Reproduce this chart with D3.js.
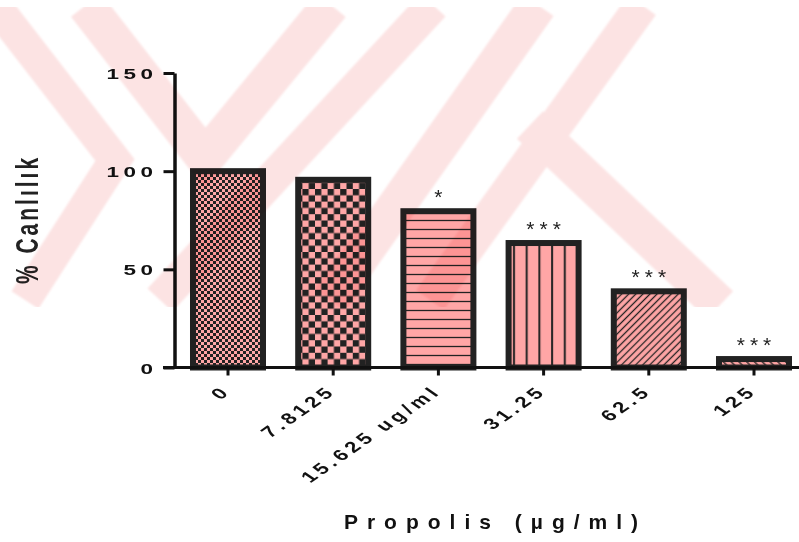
<!DOCTYPE html>
<html>
<head>
<meta charset="utf-8">
<script src="https://cdn.jsdelivr.net/npm/d3@7"></script>
<style>
  html, body { margin: 0; padding: 0; background: #fff; }
  svg { display: block; }
  .lbl { font-family: "Liberation Sans", Arial, sans-serif; font-weight: bold; fill: #111; }
</style>
</head>
<body>
<svg id="chart" width="799" height="542"></svg>
<script>
// ---- data ----
const categories = ["0", "7.8125", "15.625 ug/ml", "31.25", "62.5", "125"];
const viability = [100, 95.6, 79.6, 63.4, 38.8, 4.3];
const significance = ["", "", "*", "***", "***", "***"];
const yTicks = [0, 50, 100, 150];
const yTitle = "% Canlılık";
const xTitle = "Propolis (µg/ml)";

// ---- style ----
const pink = "#ffa6a6";
const ink = "#222";
const axisInk = "#111";
const barFills = ["checkFine", "checkCoarse", "hLines", "vLines", "diagUp", "diagDown"];
const stretch = 1.45;      // horizontal stretch applied to axis lettering

const svg = d3.select("#chart");
const W = 799, H = 542;

const y = d3.scaleLinear().domain([0, 150]).range([367.5, 73]);
const x = d3.scaleBand().domain(categories)
  .range([175.4, 806.6]).paddingInner(0.3346).paddingOuter(0.1673);

// ---- fill patterns ----
const defs = svg.append("defs");
function pattern(id, w, h, transform) {
  const p = defs.append("pattern").attr("id", id)
    .attr("patternUnits", "userSpaceOnUse").attr("width", w).attr("height", h);
  if (transform) p.attr("patternTransform", transform);
  p.append("rect").attr("width", w).attr("height", h).attr("fill", pink);
  return p;
}
let p = pattern("checkFine", 6, 6);
p.append("rect").attr("width", 3).attr("height", 3).attr("fill", ink);
p.append("rect").attr("x", 3).attr("y", 3).attr("width", 3).attr("height", 3).attr("fill", ink);

p = pattern("checkCoarse", 12.6, 12.6);
p.append("rect").attr("width", 6.3).attr("height", 6.3).attr("fill", ink);
p.append("rect").attr("x", 6.3).attr("y", 6.3).attr("width", 6.3).attr("height", 6.3).attr("fill", ink);

p = pattern("hLines", 10, 9);
p.append("line").attr("x1", 0).attr("x2", 10).attr("y1", 4.5).attr("y2", 4.5)
  .attr("stroke", ink).attr("stroke-width", 1.3);

p = pattern("vLines", 12.7, 10);
p.append("line").attr("x1", 6).attr("x2", 6).attr("y1", 0).attr("y2", 10)
  .attr("stroke", ink).attr("stroke-width", 2);

p = pattern("diagUp", 5, 10, "rotate(45)");
p.append("line").attr("x1", 2.5).attr("x2", 2.5).attr("y1", 0).attr("y2", 10)
  .attr("stroke", ink).attr("stroke-width", 1.3);

p = pattern("diagDown", 5.5, 10, "rotate(-45)");
p.append("line").attr("x1", 2.7).attr("x2", 2.7).attr("y1", 0).attr("y2", 10)
  .attr("stroke", ink).attr("stroke-width", 1.3);

// ---- bars ----
svg.append("g").selectAll("rect").data(viability).join("rect")
  .attr("x", (d, i) => x(categories[i]))
  .attr("width", x.bandwidth())
  .attr("y", d => y(d))
  .attr("height", d => y(0) - y(d))
  .attr("fill", (d, i) => `url(#${barFills[i]})`)
  .attr("stroke", ink)
  .attr("stroke-width", 6);

// ---- significance marks ----
const starLS = 5;
svg.append("g").selectAll("text").data(significance).join("text")
  .attr("class", "lbl")
  .attr("x", (d, i) => x(categories[i]) + x.bandwidth() / 2)
  .attr("y", (d, i) => y(viability[i]) - 7)
  .attr("dx", starLS / 2)
  .attr("text-anchor", "middle")
  .style("font-size", "21px")
  .style("font-weight", "normal")
  .style("letter-spacing", starLS + "px")
  .style("fill", ink)
  .text(d => d);

// ---- y axis ----
const yLS = 3.1;
const yAxis = svg.append("g")
  .attr("transform", "translate(174.5,0)")
  .call(d3.axisLeft(y).tickValues(yTicks).tickSize(11).tickSizeOuter(0).tickFormat(d3.format("d")));
yAxis.attr("font-family", null).attr("font-size", null);
yAxis.select(".domain").attr("stroke", axisInk).attr("stroke-width", 3.5);
yAxis.selectAll(".tick line").attr("stroke", axisInk).attr("stroke-width", 3);
yAxis.selectAll(".tick text")
  .attr("class", "lbl")
  .attr("x", 0).attr("dy", "0.36em")
  .attr("dx", yLS)
  .attr("text-anchor", "end")
  .attr("transform", `translate(-21.5,0) scale(${stretch},1)`)
  .style("font-size", "15.5px")
  .style("letter-spacing", yLS + "px");

// ---- x axis ----
const xLS = 3;
const xAxis = svg.append("g")
  .attr("transform", "translate(0,367.5)")
  .call(d3.axisBottom(x).tickSize(8).tickSizeOuter(0));
xAxis.attr("font-family", null).attr("font-size", null);
xAxis.select(".domain").attr("d", "M163,0H799").attr("stroke", axisInk).attr("stroke-width", 3);
xAxis.selectAll(".tick line").attr("stroke", axisInk).attr("stroke-width", 3);
xAxis.selectAll(".tick text")
  .attr("class", "lbl")
  .attr("y", 0).attr("dy", 0)
  .attr("dx", xLS)
  .attr("text-anchor", "end")
  .attr("transform", `translate(1,27) scale(${stretch},1) rotate(-45)`)
  .style("font-size", "15.5px")
  .style("letter-spacing", xLS + "px");

// ---- axis titles ----
const yTitleLS = 3;
svg.append("text")
  .attr("class", "lbl")
  .attr("transform", `translate(38,221) scale(${stretch},1) rotate(-90)`)
  .attr("text-anchor", "middle")
  .attr("dx", yTitleLS / 2)
  .style("font-size", "21px")
  .style("letter-spacing", yTitleLS + "px")
  .style("fill", ink)
  .text(yTitle);

const xTitleLS = 9;
svg.append("text")
  .attr("class", "lbl")
  .attr("x", 491).attr("y", 529)
  .attr("dx", xTitleLS / 2)
  .attr("text-anchor", "middle")
  .style("font-size", "21px")
  .style("letter-spacing", xTitleLS + "px")
  .text(xTitle);

// ---- faint background emblem ----
const blur = defs.append("filter").attr("id", "soft");
blur.append("feGaussianBlur").attr("stdDeviation", 1.2);
defs.append("clipPath").attr("id", "emblemClip")
  .append("rect").attr("x", 0).attr("y", 7).attr("width", W).attr("height", 300);

const emblemStrokes = [
  { pts: [[-5, 5], [115, 160], [25, 300]], w: 32 },
  { pts: [[86, 5], [205, 158], [331, 5]], w: 38 },
  { pts: [[433, 5], [160, 300]], w: 34 },
  { pts: [[538, 5], [330, 300]], w: 38 },
  { pts: [[642, 5], [430, 300]], w: 34 },
  { pts: [[530, 125], [720, 305]], w: 38 }
];
svg.append("g")
  .attr("clip-path", "url(#emblemClip)")
  .style("mix-blend-mode", "multiply")
  .attr("filter", "url(#soft)")
  .selectAll("path").data(emblemStrokes).join("path")
  .attr("d", d => d3.line()(d.pts))
  .attr("fill", "none")
  .attr("stroke", "#fce3e3")
  .attr("stroke-width", d => d.w)
  .attr("stroke-linejoin", "miter");
</script>
</body>
</html>
